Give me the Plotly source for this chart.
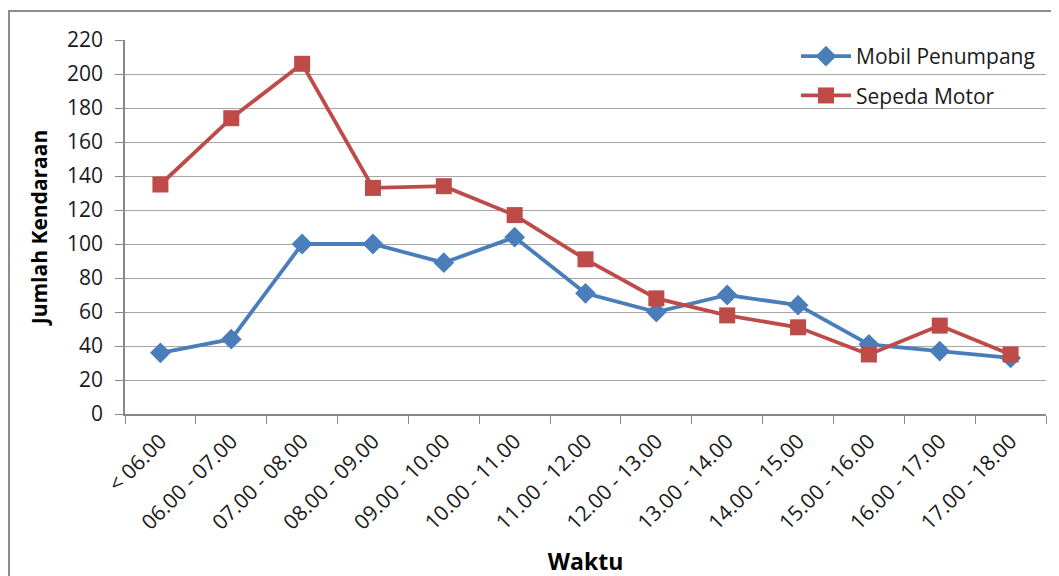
import plotly.graph_objects as go

categories = ["< 06.00", "06.00 - 07.00", "07.00 - 08.00", "08.00 - 09.00", "09.00 - 10.00",
              "10.00 - 11.00", "11.00 - 12.00", "12.00 - 13.00", "13.00 - 14.00", "14.00 - 15.00",
              "15.00 - 16.00", "16.00 - 17.00", "17.00 - 18.00"]
mobil_penumpang = [36, 44, 100, 100, 89, 104, 71, 60, 70, 64, 41, 37, 33]
sepeda_motor = [135, 174, 206, 133, 134, 117, 91, 68, 58, 51, 35, 52, 35]
y_ticks = list(range(0, 221, 20))

FONT = "Open Sans, Liberation Sans, sans-serif"

fig = go.Figure()
fig.add_trace(go.Scatter(
    x=categories, y=mobil_penumpang, name="Mobil Penumpang", mode="lines+markers",
    legendgroup="a",
    line=dict(color="#4A7EBB", width=3.8),
    marker=dict(symbol="diamond", size=16, color="#4A7EBB"),
))
fig.add_trace(go.Scatter(
    x=categories, y=sepeda_motor, name="Sepeda Motor", mode="lines+markers",
    legendgroup="b",
    line=dict(color="#BE4B48", width=3.8),
    marker=dict(symbol="square", size=16, color="#BE4B48"),
))

# page shows the figure offset by 8px (body margin); plot area target in screen coords
L, R, T, B = 125, 1046, 40, 414
OFF = 8
def px(x):
    return (x - L) / (R - L)
def py(y):
    return (B - y) / (B - T)
fig.add_shape(type="rect", xref="paper", yref="paper",
              x0=px(9), x1=px(1075), y0=py(600), y1=py(11),
              line=dict(color="#8C8C8C", width=2), fillcolor="rgba(0,0,0,0)", layer="below")

W, H = 1059, 576
fig.update_layout(
    width=W, height=H,
    margin=dict(l=L - OFF, r=W - (R - OFF), t=T - OFF, b=H - (B - OFF), autoexpand=False),
    paper_bgcolor="white", plot_bgcolor="white",
    font=dict(family=FONT, size=18, color="#000000"),
    showlegend=True,
    legend=dict(x=px(796), y=py(36), xanchor="left", yanchor="top",
                bgcolor="rgba(0,0,0,0)", font=dict(size=21, family=FONT, color="#1a1a1a"),
                tracegroupgap=9, itemwidth=50),
)
fig.update_xaxes(
    type="category", range=[-0.5, 12.5],
    tickangle=-45, tickfont=dict(size=21, family=FONT, color="#1a1a1a"),
    showline=True, linecolor="#888888", linewidth=1.5,
    ticks="outside", tickson="boundaries", ticklen=8, tickcolor="#888888",
    ticklabelstandoff=5,
    showgrid=False,
    title=dict(text="<b>Waktu</b>", font=dict(size=23, family=FONT), standoff=20),
)
fig.update_yaxes(
    range=[0, 220], tickvals=y_ticks,
    tickfont=dict(size=21, family=FONT, color="#1a1a1a"),
    showline=True, linecolor="#888888", linewidth=1.5,
    ticks="outside", ticklen=8, tickcolor="#888888",
    ticklabelstandoff=8,
    showgrid=True, gridcolor="#A6A6A6", gridwidth=1.2,
    zeroline=False,
    title=dict(text="<b>Jumlah Kendaraan</b>", font=dict(size=21, family=FONT), standoff=14),
)

fig.write_html("out.html")
